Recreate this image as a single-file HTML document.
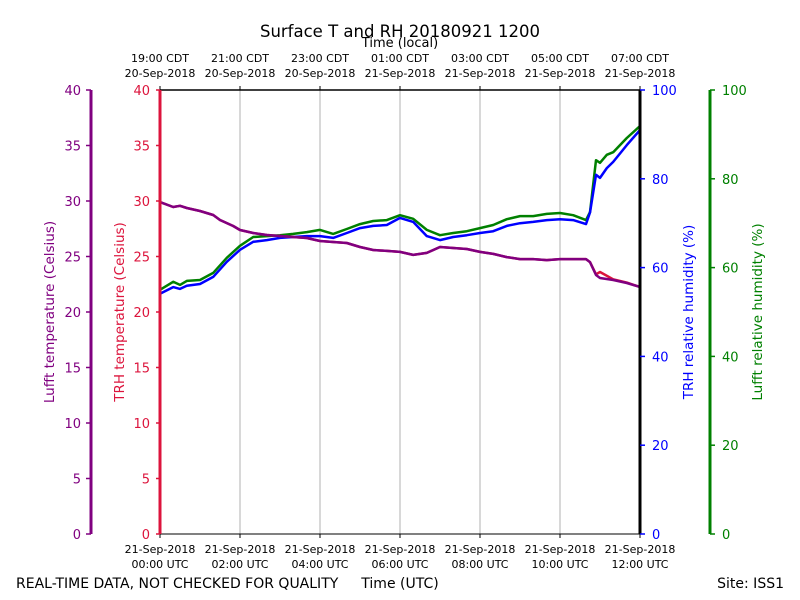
<!DOCTYPE html>
<html><head><meta charset="utf-8"><style>
body{margin:0;background:#fff}
svg{display:block;font-family:"DejaVu Sans","Liberation Sans",sans-serif}
</style></head><body>
<svg id="chart" width="800" height="600" viewBox="0 0 800 600">
<rect width="800" height="600" fill="#fff"/>
<text x="400" y="37" text-anchor="middle" font-size="16.5">Surface T and RH 20180921 1200</text>
<text x="400" y="47" text-anchor="middle" font-size="13">Time (local)</text>
<g id="grid"></g>
<g id="series"></g>
<g id="axes"></g>
<text transform="translate(54,312) rotate(-90)" text-anchor="middle" font-size="13.5" fill="#800080">Lufft temperature (Celsius)</text>
<text transform="translate(124,312) rotate(-90)" text-anchor="middle" font-size="13.5" fill="#dc143c">TRH temperature (Celsius)</text>
<text transform="translate(693,312) rotate(-90)" text-anchor="middle" font-size="13.5" fill="#0000ff">TRH relative humidity (%)</text>
<text transform="translate(762,312) rotate(-90)" text-anchor="middle" font-size="13.5" fill="#008000">Lufft relative humidity (%)</text>
<text x="16" y="588" font-size="14">REAL-TIME DATA, NOT CHECKED FOR QUALITY</text>
<text x="400" y="588" text-anchor="middle" font-size="14">Time (UTC)</text>
<text x="784" y="588" text-anchor="end" font-size="14">Site: ISS1</text>
</svg>
<script>
const tTemp=[0,.33,.5,.67,1,1.33,1.5,1.83,2,2.33,2.67,3,3.33,3.67,4,4.33,4.67,5,5.33,5.67,6,6.33,6.67,7,7.33,7.67,8,8.33,8.67,9,9.33,9.67,10,10.33,10.65,10.75,10.9,11,11.33,11.67,12];
const lufftTemp=[29.9,29.46,29.57,29.37,29.1,28.74,28.29,27.75,27.39,27.12,26.94,26.85,26.76,26.67,26.4,26.31,26.22,25.86,25.59,25.5,25.41,25.14,25.32,25.86,25.77,25.68,25.41,25.23,24.95,24.77,24.77,24.68,24.77,24.77,24.77,24.5,23.33,23.06,22.88,22.61,22.25];
const trhTemp=[29.9,29.46,29.57,29.37,29.1,28.74,28.29,27.75,27.39,27.12,26.94,26.85,26.76,26.67,26.4,26.31,26.22,25.86,25.59,25.5,25.41,25.14,25.32,25.86,25.77,25.68,25.41,25.23,24.95,24.77,24.77,24.68,24.77,24.77,24.77,24.5,23.4,23.6,22.95,22.65,22.25];
const tRH=[0,.33,.5,.67,1,1.33,1.67,2,2.33,2.67,3,3.33,3.67,4,4.33,4.67,5,5.33,5.67,6,6.33,6.67,7,7.33,7.67,8,8.33,8.67,9,9.33,9.67,10,10.33,10.65,10.75,10.9,11,11.17,11.33,11.67,12];
const trhRH=[54.1,55.6,55.2,55.9,56.3,57.9,61.3,64.0,65.8,66.2,66.7,66.9,67.1,67.1,66.7,67.8,68.9,69.4,69.6,71.2,70.3,67.1,66.2,66.9,67.3,67.8,68.2,69.4,70.0,70.3,70.7,70.9,70.7,69.8,72.4,80.9,80.2,82.4,83.8,87.6,91.0];
const lufftRH=[55.0,56.8,56.1,57.0,57.2,58.8,62.2,64.9,66.9,67.1,67.3,67.6,68.0,68.5,67.6,68.7,69.8,70.5,70.7,71.8,71.0,68.5,67.3,67.8,68.2,68.9,69.6,70.9,71.6,71.6,72.1,72.3,71.8,70.7,72.5,84.2,83.6,85.4,86.0,89.2,91.9];
const tempTicks=[0,5,10,15,20,25,30,35,40];
const rhTicks=[0,20,40,60,80,100];
const timeTicks=[0,2,4,6,8,10,12];
const utcLabels=["00:00 UTC","02:00 UTC","04:00 UTC","06:00 UTC","08:00 UTC","10:00 UTC","12:00 UTC"];
const utcDates=["21-Sep-2018","21-Sep-2018","21-Sep-2018","21-Sep-2018","21-Sep-2018","21-Sep-2018","21-Sep-2018"];
const localLabels=["19:00 CDT","21:00 CDT","23:00 CDT","01:00 CDT","03:00 CDT","05:00 CDT","07:00 CDT"];
const localDates=["20-Sep-2018","20-Sep-2018","20-Sep-2018","21-Sep-2018","21-Sep-2018","21-Sep-2018","21-Sep-2018"];

const X0=160,X1=640,Y0=534,Y1=90;
const xS=h=>X0+(X1-X0)*h/12;
const yT=v=>Y0-(Y0-Y1)*v/40;
const yR=v=>Y0-(Y0-Y1)*v/100;
const NS="http://www.w3.org/2000/svg";
function mk(tag,parent,at){const e=document.createElementNS(NS,tag);for(const k in at)e.setAttribute(k,at[k]);parent.appendChild(e);return e;}
const grid=document.getElementById('grid'),ser=document.getElementById('series'),ax=document.getElementById('axes');

timeTicks.forEach((h,i)=>{
  const x=xS(h);
  if(i>0&&i<timeTicks.length-1){const g=mk('line',grid,{x1:x,x2:x,y1:Y1,y2:Y0,stroke:'#b0b0b0','stroke-width':1});
  
  }
  mk('line',ax,{x1:x,x2:x,y1:Y0,y2:Y0+4,stroke:'#000'});
  mk('line',ax,{x1:x,x2:x,y1:Y1,y2:Y1-4,stroke:'#000'});
  const a=mk('text',ax,{x:x,y:553,'text-anchor':'middle','font-size':11});a.textContent=utcDates[i];
  
  
  const b=mk('text',ax,{x:x,y:568,'text-anchor':'middle','font-size':11});b.textContent=utcLabels[i];
  
  
  const c=mk('text',ax,{x:x,y:62,'text-anchor':'middle','font-size':11});c.textContent=localLabels[i];
  
  
  const d=mk('text',ax,{x:x,y:77,'text-anchor':'middle','font-size':11});d.textContent=localDates[i];
  
  
});

function line(ts,vs,sc,col,name){
  const p=ts.map((t,i)=>(i?'L':'M')+xS(t).toFixed(1)+','+sc(vs[i]).toFixed(1)).join('');
  const e=mk('path',ser,{d:p,fill:'none',stroke:col,'stroke-width':2.5,'stroke-linejoin':'round'});
  
  
}
line(tRH,lufftRH,yR,'#008000','lufft-rh-line');
line(tRH,trhRH,yR,'#0000ff','trh-rh-line');
line(tTemp,trhTemp,yT,'#dc143c','trh-temp-line');
line(tTemp,lufftTemp,yT,'#800080','lufft-temp-line');

mk('line',ax,{x1:X0,x2:X1,y1:Y1,y2:Y1,stroke:'#000','stroke-width':1.5});
mk('line',ax,{x1:X0,x2:X1,y1:Y0,y2:Y0,stroke:'#000','stroke-width':1});
mk('line',ax,{x1:X1,x2:X1,y1:Y1,y2:Y0,stroke:'#000','stroke-width':3});
mk('line',ax,{x1:X0,x2:X0,y1:Y1,y2:Y0,stroke:'#dc143c','stroke-width':3});
mk('line',ax,{x1:91,x2:91,y1:Y1,y2:Y0,stroke:'#800080','stroke-width':3});
mk('line',ax,{x1:710,x2:710,y1:Y1,y2:Y0,stroke:'#008000','stroke-width':3});

tempTicks.forEach(v=>{
  const y=yT(v);
  mk('line',ax,{x1:X0-4,x2:X0,y1:y,y2:y,stroke:'#dc143c','stroke-width':1.5});
  mk('line',ax,{x1:86,x2:91,y1:y,y2:y,stroke:'#800080','stroke-width':1.5});
  const a=mk('text',ax,{x:X0-10,y:y+5,'text-anchor':'end','font-size':13,fill:'#dc143c'});a.textContent=v;
  
  
  const b=mk('text',ax,{x:81,y:y+5,'text-anchor':'end','font-size':13,fill:'#800080'});b.textContent=v;
  
  
});
rhTicks.forEach(v=>{
  const y=yR(v);
  mk('line',ax,{x1:X1,x2:X1+5,y1:y,y2:y,stroke:'#0000ff','stroke-width':1.5});
  mk('line',ax,{x1:710,x2:715,y1:y,y2:y,stroke:'#008000','stroke-width':1.5});
  const a=mk('text',ax,{x:652,y:y+5,'font-size':13,fill:'#0000ff'});a.textContent=v;
  
  
  const b=mk('text',ax,{x:722,y:y+5,'font-size':13,fill:'#008000'});b.textContent=v;
  
  
});
</script>
</body></html>
